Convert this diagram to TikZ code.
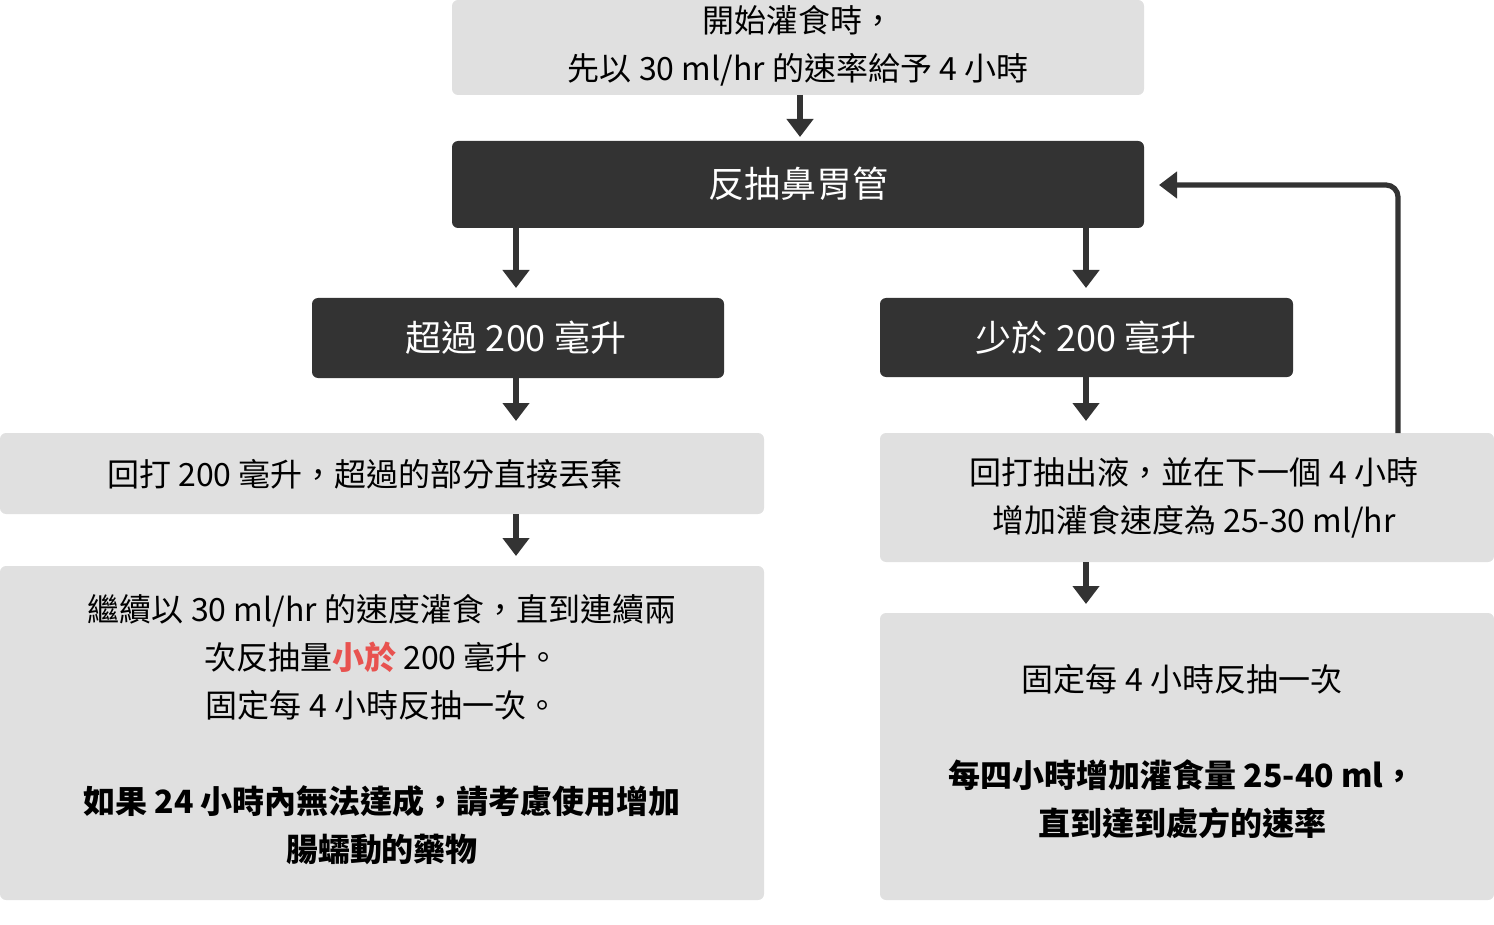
\documentclass[tikz,border=0pt]{standalone}
\usepackage{fontspec}
\setmainfont{Noto Sans CJK TC}
\usetikzlibrary{arrows.meta}
\definecolor{lg}{HTML}{E0E0E0}
\definecolor{dk}{HTML}{333333}
\definecolor{rd}{HTML}{E8524F}
\begin{document}
\begin{tikzpicture}[x=0.5pt,y=-0.5pt,
 lbox/.style={fill=lg,rounded corners=3pt},
 dbox/.style={fill=dk,rounded corners=3pt},
 tx/.style={font=\fontsize{16}{24}\selectfont,align=center,text=black},
 wt/.style={font=\fontsize{18}{24}\selectfont,text=white},
 arr/.style={draw=dk,line width=2.6pt,-{Triangle[length=9pt,width=13pt]},shorten >=2pt}]
\useasboundingbox (0,0) rectangle (1494,925);
\fill[lbox] (452,0) rectangle (1144,95);
\node[tx] (t1) at (798,46) {開始灌食時，\\先以 30 ml/hr 的速率給予 4 小時};
\fill[dbox] (452,141) rectangle (1144,228);
\node[wt] (d1) at (798,184) {反抽鼻胃管};
\fill[dbox] (312,298) rectangle (724,378);
\node[wt] (d2) at (516,338) {超過 200 毫升};
\fill[dbox] (880,298) rectangle (1293,377);
\node[wt] (d3) at (1086,338) {少於 200 毫升};
\fill[lbox] (0,433) rectangle (764,514);
\node[tx] (l1) at (365,474) {回打 200 毫升，超過的部分直接丟棄};
\fill[lbox] (880,433) rectangle (1494,562);
\node[tx] (r1) at (1194,498) {回打抽出液，並在下一個 4 小時\\增加灌食速度為 25-30 ml/hr};
\fill[lbox] (0,566) rectangle (764,900);
\node[tx] (l2) at (382,730) {繼續以 30 ml/hr 的速度灌食，直到連續兩\\次反抽量{\bfseries\color{rd}小於} 200 毫升。\\固定每 4 小時反抽一次。\\[24pt]
{\bfseries 如果 24 小時內無法達成，請考慮使用增加}\\{\bfseries 腸蠕動的藥物}};
\fill[lbox] (880,613) rectangle (1494,900);
\node[tx] (r2) at (1182,752) {固定每 4 小時反抽一次\\[24pt]{\bfseries 每四小時增加灌食量 25-40 ml，}\\{\bfseries 直到達到處方的速率}};
\coordinate (a0) at (800,95); \coordinate (a1) at (800,141);
\draw[arr] (a0) -- (a1);
\coordinate (b0) at (516,228); \coordinate (b1) at (516,292);
\draw[arr] (b0) -- (b1);
\coordinate (c0) at (1086,228); \coordinate (c1) at (1086,292);
\draw[arr] (c0) -- (c1);
\coordinate (e0) at (516,378); \coordinate (e1) at (516,425);
\draw[arr] (e0) -- (e1);
\coordinate (f0) at (1086,377); \coordinate (f1) at (1086,425);
\draw[arr] (f0) -- (f1);
\coordinate (g0) at (516,514); \coordinate (g1) at (516,560);
\draw[arr] (g0) -- (g1);
\coordinate (h0) at (1086,562); \coordinate (h1) at (1086,608);
\draw[arr] (h0) -- (h1);
\coordinate (k0) at (1398,433); \coordinate (k1) at (1155,185);
\draw[arr,rounded corners=6pt] (k0) |- (k1);
\end{tikzpicture}
\end{document}
